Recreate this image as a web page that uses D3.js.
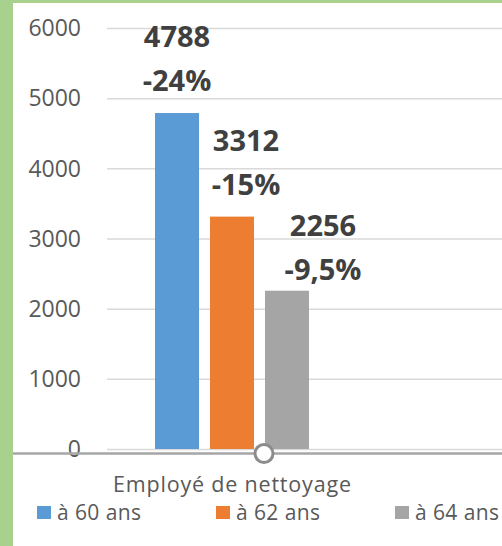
<!DOCTYPE html>
<html>
<head>
<meta charset="utf-8">
<script src="https://cdn.jsdelivr.net/npm/d3@7"></script>
<style>
  body { margin: 0; background: #fff; }
  svg { display: block; font-family: "Open Sans", sans-serif; }
</style>
</head>
<body>
<div id="chart"></div>
<script>
// data
const categories = ["Employé de nettoyage"];
const series = ["à 60 ans", "à 62 ans", "à 64 ans"];
const values = [4788, 3312, 2256];
const changes = ["-24%", "-15%", "-9,5%"];
const yTicks = [0, 1000, 2000, 3000, 4000, 5000, 6000];

const colors = ["#5b9bd5", "#ed7d31", "#a5a5a5"];
// labels were moved by hand in the original, [dx, dy]
const labelShift = [[0, 0], [14, 0], [36, 11]];

const W = 502, H = 546;

const svg = d3.select("#chart").append("svg")
    .attr("width", W)
    .attr("height", H);

svg.append("rect").attr("width", W).attr("height", H).attr("fill", "#fff");

// green frame of the sheet
svg.append("rect").attr("x", 0).attr("y", 0).attr("width", 13).attr("height", H).attr("fill", "#a9d18e");
svg.append("rect").attr("x", 0).attr("y", 0).attr("width", W).attr("height", 3).attr("fill", "#a9d18e");

// scales
const y = d3.scaleLinear()
    .domain([0, 6000])
    .range([449, 28]);

const x0 = d3.scaleBand()
    .domain(categories)
    .range([107, 357]);

const groupW = 154;
const x1 = d3.scaleBand()
    .domain(series)
    .range([(x0.bandwidth() - groupW) / 2, (x0.bandwidth() + groupW) / 2])
    .paddingInner(0.2);

// gridlines
svg.append("g")
    .selectAll("line")
    .data(yTicks)
    .join("line")
      .attr("x1", 107)
      .attr("x2", W)
      .attr("y1", d => y(d) + 0.5)
      .attr("y2", d => y(d) + 0.5)
      .attr("stroke", "#d9d9d9")
      .attr("stroke-width", 1.5);

// y axis labels
svg.append("g")
    .selectAll("text")
    .data(yTicks)
    .join("text")
      .attr("x", 81)
      .attr("y", d => y(d))
      .attr("dy", "0.36em")
      .attr("text-anchor", "end")
      .attr("font-size", 23)
      .attr("fill", "#595959")
      .text(d => d);

// bars
const rows = series.map((s, i) => ({ s, i, v: values[i], cat: categories[0] }));

svg.append("g")
    .selectAll("rect")
    .data(rows)
    .join("rect")
      .attr("x", d => x0(d.cat) + x1(d.s))
      .attr("y", d => y(d.v))
      .attr("width", x1.bandwidth())
      .attr("height", d => y(0) - y(d.v))
      .attr("fill", (d, i) => colors[i]);

// data labels
const lab = svg.append("g")
    .attr("font-weight", "bold")
    .attr("font-size", 29)
    .attr("fill", "#404040")
    .attr("text-anchor", "middle");

lab.selectAll(".val")
    .data(rows)
    .join("text")
      .attr("class", "val")
      .attr("x", d => x0(d.cat) + x1(d.s) + x1.bandwidth() / 2 + labelShift[d.i][0])
      .attr("y", d => y(d.v) - 66 + labelShift[d.i][1])
      .text(d => d.v);

lab.selectAll(".pct")
    .data(rows)
    .join("text")
      .attr("class", "pct")
      .attr("x", d => x0(d.cat) + x1(d.s) + x1.bandwidth() / 2 + labelShift[d.i][0])
      .attr("y", d => y(d.v) - 22 + labelShift[d.i][1])
      .text(d => changes[d.i]);

// bottom edge of the chart object
svg.append("line")
    .attr("x1", 13).attr("x2", W)
    .attr("y1", 453.5).attr("y2", 453.5)
    .attr("stroke", "#a6a6a6")
    .attr("stroke-width", 2.5);

// selection handle
svg.append("circle")
    .attr("cx", 264)
    .attr("cy", 453.5)
    .attr("r", 9)
    .attr("fill", "#fff")
    .attr("stroke", "#8c8c8c")
    .attr("stroke-width", 3);

// category label
svg.append("text")
    .attr("x", x0(categories[0]) + x0.bandwidth() / 2)
    .attr("y", 492)
    .attr("text-anchor", "middle")
    .attr("font-size", 21.5)
    .attr("textLength", 238)
    .attr("lengthAdjust", "spacing")
    .attr("fill", "#595959")
    .text(categories[0]);

// legend
const legX = d3.scaleLinear().domain([0, series.length - 1]).range([37, 395]);
const leg = svg.append("g")
    .selectAll("g")
    .data(series)
    .join("g")
      .attr("transform", (d, i) => `translate(${legX(i)},0)`);

leg.append("rect")
    .attr("x", 0).attr("y", 506)
    .attr("width", 14).attr("height", 13)
    .attr("fill", (d, i) => colors[i]);

leg.append("text")
    .attr("x", 20)
    .attr("y", 520)
    .attr("font-size", 21)
    .attr("textLength", 84)
    .attr("lengthAdjust", "spacing")
    .attr("fill", "#595959")
    .text(d => d);
</script>
</body>
</html>
